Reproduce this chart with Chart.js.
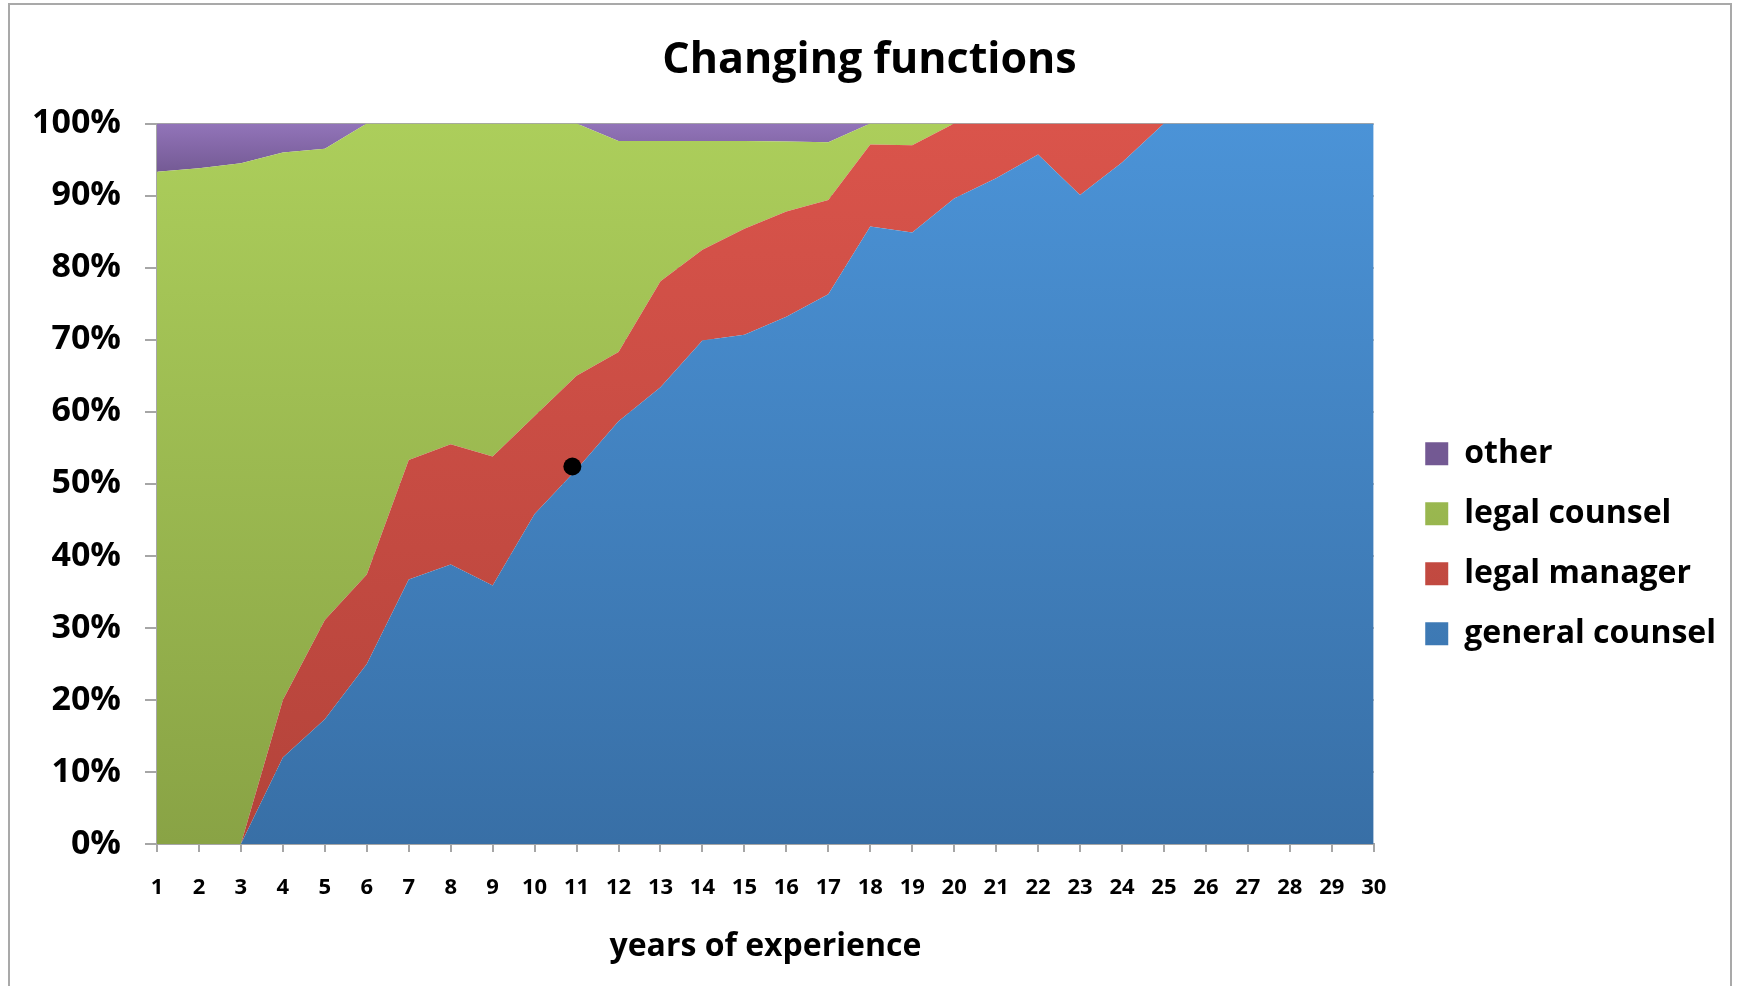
<!DOCTYPE html>
<html>
<head>
<meta charset="utf-8">
<script src="https://cdn.jsdelivr.net/npm/chart.js@4/dist/chart.umd.min.js"></script>
<style>
    html, body { margin:0; padding:0; background:#fff; overflow:hidden; }
    #frame { position:absolute; left:8px; top:3px; width:1724px; height:1020px; border:2px solid #a9a9a9; box-sizing:border-box; }
    #chart { position:absolute; left:0; top:0; }
</style>
</head>
<body>
<div id="frame"></div>
<canvas id="chart" width="1737" height="986"></canvas>
<script>
(function() {
    'use strict';

    // ====== data (share in %, per year of experience) ======
    var years = [1,2,3,4,5,6,7,8,9,10,11,12,13,14,15,16,17,18,19,20,21,22,23,24,25,26,27,28,29,30];
    var generalCounsel = [0,0,0,12.0,17.3,25.0,36.7,38.8,35.9,45.8,52.0,58.7,63.4,69.9,70.7,73.2,76.3,85.7,84.9,89.6,92.4,95.7,90.1,94.6,100,100,100,100,100,100];
    var legalManager   = [0,0,0,8.0,13.8,12.4,16.6,16.7,17.9,13.6,13.0,9.6,14.7,12.6,14.7,14.6,13.1,11.4,12.1,10.4,7.6,4.3,9.9,5.4,0,0,0,0,0,0];
    var legalCounsel   = [93.3,93.8,94.5,76.0,65.4,62.6,46.7,44.5,46.2,40.6,35.0,29.3,19.5,15.1,12.2,9.7,8.0,2.9,3.0,0,0,0,0,0,0,0,0,0,0,0];
    var other          = [6.7,6.2,5.5,4.0,3.5,0,0,0,0,0,0,2.4,2.4,2.4,2.4,2.5,2.6,0,0,0,0,0,0,0,0,0,0,0,0,0];
    var markerPoint = { x: 10.9, y: 52.4 };

    var FONT = "'Open Sans', 'DejaVu Sans', sans-serif";

    function pts(vals) {
        return vals.map(function(v, i) { return { x: years[i], y: v }; });
    }

    // vertical gradient between two values of the y scale
    function grad(top, bottom, fromPct, toPct) {
        return function(c) {
            var chart = c.chart, a = chart.chartArea;
            if (!a) return top;
            var ys = chart.scales.y;
            var y0 = ys.getPixelForValue(fromPct), y1 = ys.getPixelForValue(toPct);
            var g = chart.ctx.createLinearGradient(0, y0, 0, y1);
            g.addColorStop(0, top); g.addColorStop(1, bottom);
            return g;
        };
    }

    function area(label, vals, fill, bg) {
        return { label: label, data: pts(vals), fill: fill, backgroundColor: bg, borderWidth: 0,
                 pointRadius: 0, pointHoverRadius: 0, tension: 0 };
    }

    new Chart(document.getElementById('chart'), {
        type: 'line',
        data: {
            datasets: [
                area('general counsel', generalCounsel, 'origin', grad('#4b93d7', '#386fa6', 100, 0)),
                area('legal manager', legalManager, '-1', grad('#da544b', '#b3433a', 100, 0)),
                area('legal counsel', legalCounsel, '-1', grad('#acce5b', '#89a345', 100, 0)),
                area('other', other, '-1', grad('#9274b9', '#735993', 100, 93)),
                { label: 'marker', data: [markerPoint], stack: 'marker', order: -1, showLine: false, fill: false,
                  pointRadius: 9, pointBackgroundColor: '#000', pointBorderWidth: 0 }
            ]
        },
        options: {
            responsive: false, animation: false,
            layout: { padding: { left: 13, right: 11, top: 0, bottom: 20 } },
            plugins: {
                title: { display: true, text: 'Changing functions', color: '#000',
                         font: { family: FONT, size: 43, weight: 'bold' }, padding: { top: 35, bottom: 37 } },
                legend: {
                    position: 'right', reverse: true, maxWidth: 345,
                    title: { display: true, text: '', padding: { top: 0, bottom: 107 } },
                    labels: {
                        color: '#000', boxWidth: 23, boxHeight: 23, padding: 28,
                        font: { family: FONT, size: 32, weight: 'bold' },
                        filter: function(item) { return item.text !== 'marker'; }
                    }
                },
                tooltip: { enabled: false }
            },
            scales: {
                x: {
                    type: 'linear', min: 1, max: 30,
                    ticks: { stepSize: 1, autoSkip: false, maxRotation: 0, padding: 23, color: '#000',
                             font: { family: FONT, size: 22, weight: 'bold' } },
                    grid: { drawOnChartArea: false, tickLength: 8, color: '#a6a6a6', lineWidth: 2 },
                    border: { color: '#a6a6a6', width: 2 },
                    title: { display: true, text: 'years of experience', color: '#000',
                             font: { family: FONT, size: 32, weight: 'bold' }, padding: { top: 0, bottom: 0 } },
                    afterFit: function(s) { s.height = 122; }
                },
                y: {
                    stacked: true, min: 0, max: 100,
                    ticks: { stepSize: 10, padding: 24, color: '#000',
                             font: { family: FONT, size: 34, weight: 'bold' },
                             callback: function(v) { return v + '%'; } },
                    grid: { tickLength: 12, color: '#a6a6a6', lineWidth: 2 },
                    border: { color: '#a6a6a6', width: 2 },
                    afterFit: function(s) { s.width = 144; }
                },
                gap: {
                    position: 'right', display: true,
                    ticks: { display: false }, grid: { display: false }, border: { display: false },
                    afterFit: function(s) { s.width = 23.5; }
                }
            }
        }
    });
})();
</script>
</body>
</html>
